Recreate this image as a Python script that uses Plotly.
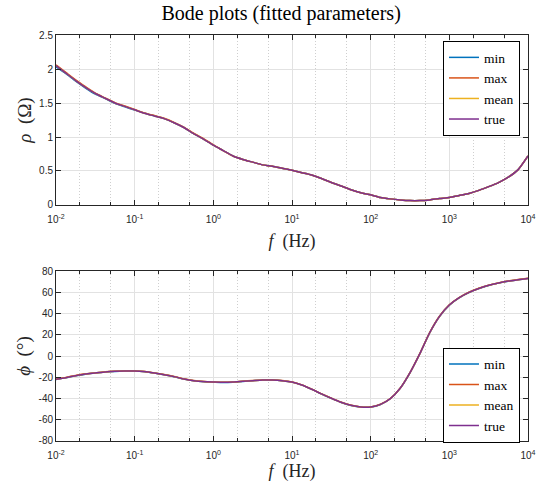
import plotly.graph_objects as go

# log10 of frequency (Hz), read every 1/8 decade
log_f = [-2.0, -1.875, -1.75, -1.625, -1.5, -1.375, -1.25, -1.125,
         -1.0, -0.875, -0.75, -0.625, -0.5, -0.375, -0.25, -0.125,
         0.0, 0.125, 0.25, 0.375, 0.5, 0.625, 0.75, 0.875,
         1.0, 1.125, 1.25, 1.375, 1.5, 1.625, 1.75, 1.875,
         2.0, 2.125, 2.25, 2.375, 2.5, 2.625, 2.75, 2.875,
         3.0, 3.125, 3.25, 3.375, 3.5, 3.625, 3.75, 3.875, 4.0]
freq = [10 ** v for v in log_f]

rho_min = [2.03, 1.93, 1.82, 1.72, 1.63, 1.565, 1.495, 1.445,
           1.395, 1.35, 1.31, 1.27, 1.21, 1.14, 1.05, 0.97,
           0.88, 0.80, 0.72, 0.67, 0.63, 0.59, 0.57, 0.54,
           0.51, 0.475, 0.44, 0.39, 0.33, 0.28, 0.225, 0.18,
           0.15, 0.11, 0.09, 0.075, 0.065, 0.065, 0.075, 0.095,
           0.11, 0.14, 0.17, 0.215, 0.27, 0.33, 0.41, 0.52, 0.72]
rho_max = [2.06, 1.95, 1.84, 1.74, 1.645, 1.575, 1.505, 1.455,
           1.405, 1.355, 1.315, 1.275, 1.215, 1.145, 1.055, 0.975,
           0.885, 0.80, 0.72, 0.67, 0.63, 0.59, 0.57, 0.54,
           0.51, 0.475, 0.44, 0.39, 0.33, 0.28, 0.225, 0.18,
           0.15, 0.11, 0.09, 0.075, 0.065, 0.065, 0.075, 0.095,
           0.11, 0.14, 0.17, 0.215, 0.27, 0.33, 0.41, 0.52, 0.72]
rho_mean = [2.05, 1.94, 1.83, 1.73, 1.64, 1.57, 1.50, 1.45,
            1.40, 1.35, 1.31, 1.27, 1.21, 1.14, 1.05, 0.97,
            0.88, 0.80, 0.72, 0.67, 0.63, 0.59, 0.57, 0.54,
            0.51, 0.475, 0.44, 0.39, 0.33, 0.28, 0.225, 0.18,
            0.15, 0.11, 0.09, 0.075, 0.065, 0.065, 0.075, 0.095,
            0.11, 0.14, 0.17, 0.215, 0.27, 0.33, 0.41, 0.52, 0.72]
rho_true = [2.05, 1.94, 1.83, 1.73, 1.64, 1.57, 1.50, 1.45,
            1.40, 1.35, 1.31, 1.27, 1.21, 1.14, 1.05, 0.97,
            0.88, 0.80, 0.72, 0.67, 0.63, 0.59, 0.57, 0.54,
            0.51, 0.475, 0.44, 0.39, 0.33, 0.28, 0.225, 0.18,
            0.15, 0.11, 0.09, 0.075, 0.065, 0.065, 0.075, 0.095,
            0.11, 0.14, 0.17, 0.215, 0.27, 0.33, 0.41, 0.52, 0.72]

phi_min = [-22.2, -20.6, -18.7, -17.1, -16.1, -15.1, -14.5, -14.2,
           -14.2, -14.8, -16.1, -17.7, -19.5, -21.7, -23.3, -24.2,
           -24.6, -24.9, -24.6, -23.9, -23.3, -22.7, -22.7, -23.3,
           -24.6, -27.4, -31.4, -35.8, -39.9, -43.7, -46.5, -48.1,
           -48.1, -45.6, -40.2, -30.5, -15.8, 2.1, 21.8, 37.2,
           47.9, 54.8, 59.8, 63.5, 66.4, 68.6, 70.4, 71.7, 72.9]
phi_max = [-21.6, -20.2, -18.3, -16.7, -15.9, -14.9, -14.3, -14.0,
           -14.0, -14.6, -15.9, -17.5, -19.3, -21.5, -23.1, -24.0,
           -24.4, -24.7, -24.4, -23.7, -23.1, -22.5, -22.5, -23.1,
           -24.4, -27.2, -31.2, -35.6, -39.7, -43.5, -46.3, -47.9,
           -47.9, -45.4, -40.0, -30.3, -15.6, 2.3, 22.0, 37.4,
           48.1, 55.0, 60.0, 63.7, 66.6, 68.8, 70.6, 71.9, 73.1]
phi_mean = [-21.9, -20.4, -18.5, -16.9, -16.0, -15.0, -14.4, -14.1,
            -14.1, -14.7, -16.0, -17.6, -19.4, -21.6, -23.2, -24.1,
            -24.5, -24.8, -24.5, -23.8, -23.2, -22.6, -22.6, -23.2,
            -24.5, -27.3, -31.3, -35.7, -39.8, -43.6, -46.4, -48.0,
            -48.0, -45.5, -40.1, -30.4, -15.7, 2.2, 21.9, 37.3,
            48.0, 54.9, 59.9, 63.6, 66.5, 68.7, 70.5, 71.8, 73.0]
phi_true = [-21.9, -20.4, -18.5, -16.9, -16.0, -15.0, -14.4, -14.1,
            -14.1, -14.7, -16.0, -17.6, -19.4, -21.6, -23.2, -24.1,
            -24.5, -24.8, -24.5, -23.8, -23.2, -22.6, -22.6, -23.2,
            -24.5, -27.3, -31.3, -35.7, -39.8, -43.6, -46.4, -48.0,
            -48.0, -45.5, -40.1, -30.4, -15.7, 2.2, 21.9, 37.3,
            48.0, 54.9, 59.9, 63.6, 66.5, 68.7, 70.5, 71.8, 73.0]

names = ["min", "max", "mean", "true"]
colors = ["#0072BD", "#D95319", "#EDB120", "#7E2F8E"]
rho_series = [rho_min, rho_max, rho_mean, rho_true]
phi_series = [phi_min, phi_max, phi_mean, phi_true]

x_tickvals = [1e-2, 1e-1, 1e0, 1e1, 1e2, 1e3, 1e4]
x_ticktext = ["10<sup>-2</sup>", "10<sup>-1</sup>", "10<sup>0</sup>", "10<sup>1</sup>",
              "10<sup>2</sup>", "10<sup>3</sup>", "10<sup>4</sup>"]
rho_ticks = [0, 0.5, 1, 1.5, 2, 2.5]
rho_ticktext = ["0", "0.5", "1", "1.5", "2", "2.5"]
phi_ticks = [-80, -60, -40, -20, 0, 20, 40, 60, 80]
phi_ticktext = ["-80", "-60", "-40", "-20", "0", "20", "40", "60", "80"]

serif = "Liberation Serif"
sans = "Liberation Sans"
axc = "#262626"

fig = go.Figure()
for name, col, ys in zip(names, colors, rho_series):
    fig.add_trace(go.Scatter(x=freq, y=ys, name=name, mode="lines",
                             line=dict(color=col, width=1.5, shape="spline", smoothing=0.6),
                             xaxis="x", yaxis="y", legend="legend"))
for name, col, ys in zip(names, colors, phi_series):
    fig.add_trace(go.Scatter(x=freq, y=ys, name=name, mode="lines",
                             line=dict(color=col, width=1.5, shape="spline", smoothing=0.6),
                             xaxis="x2", yaxis="y2", legend="legend2"))

def xaxis_common(anchor, standoff):
    return dict(type="log", range=[-2, 4], anchor=anchor, domain=[0, 1],
                tickvals=x_tickvals, ticktext=x_ticktext, ticklabeloverflow="allow",
                ticklabelstandoff=5,
                tickfont=dict(family=sans, size=10, color=axc),
                showgrid=True, gridcolor="#e2e2e2", gridwidth=1,
                showline=True, linecolor=axc, linewidth=1, mirror="ticks",
                ticks="inside", ticklen=5, tickcolor=axc,
                minor=dict(ticks="inside", ticklen=3, tickcolor=axc,
                           showgrid=True, gridcolor="#cfcfcf", griddash="1px,2px", gridwidth=1),
                zeroline=False,
                title=dict(text="<i>f</i>  (Hz)", font=dict(family=serif, size=18, color=axc),
                           standoff=standoff))

def yaxis_common(anchor, domain, rng, tv, tt, label):
    return dict(domain=domain, range=rng, anchor=anchor,
                tickvals=tv, ticktext=tt,
                tickfont=dict(family=sans, size=10, color=axc),
                showgrid=True, gridcolor="#e2e2e2", gridwidth=1,
                showline=True, linecolor=axc, linewidth=1, mirror="ticks",
                ticks="inside", ticklen=5, tickcolor=axc,
                zeroline=False,
                title=dict(text=label, font=dict(family=serif, size=19, color=axc),
                           standoff=2))

legend_common = dict(xanchor="right", yanchor="top",
                     bgcolor="white", bordercolor="black", borderwidth=1,
                     font=dict(family=serif, size=13.5, color="black"),
                     tracegroupgap=0, itemwidth=30)

fig.update_layout(
    width=548, height=488,
    margin=dict(l=56, r=20, t=35, b=47),
    paper_bgcolor="white", plot_bgcolor="white",
    title=dict(text="Bode plots (fitted parameters)", x=0.513, xanchor="center",
               y=0.973, yanchor="middle",
               font=dict(family=serif, size=20, color="black")),
    xaxis=xaxis_common("y", 10),
    xaxis2=xaxis_common("y2", 1),
    yaxis=yaxis_common("x", [0.5813, 1.0], [0, 2.5], rho_ticks, rho_ticktext, "<i>ρ</i>  (Ω)"),
    yaxis2=yaxis_common("x2", [0.0, 0.4187], [-80, 80], phi_ticks, phi_ticktext, "<i>ϕ</i>  (°)"),
    legend=dict(x=0.983, y=0.985, **legend_common),
    legend2=dict(x=0.983, y=0.23, **legend_common),
    showlegend=True,
)

fig.write_html("out.html", config={"displayModeBar": False},
               post_script="document.body.style.margin='0';")
